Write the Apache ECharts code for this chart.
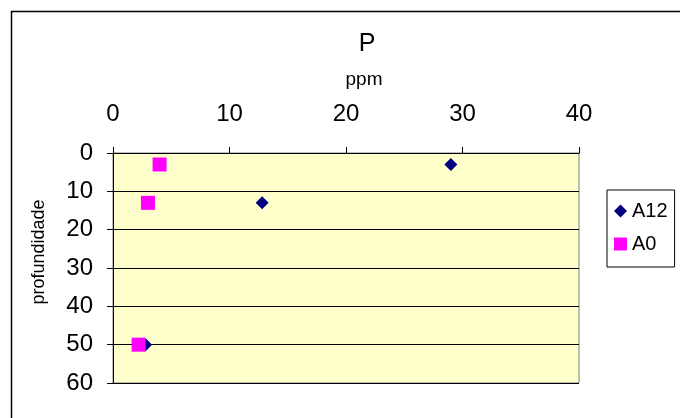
<!DOCTYPE html>
<html>
<head>
<meta charset="utf-8">
<script src="https://cdn.jsdelivr.net/npm/echarts@6/dist/echarts.min.js"></script>
<style>
html,body{margin:0;padding:0;background:#fff;}
#chart{width:680px;height:418px;}
</style>
</head>
<body>
<div id="chart"></div>
<script>
var seriesNames = ['A12', 'A0'];
var a12Values = [[29, 3], [12.8, 13], [2.8, 50]];
var a0Values = [[4, 3], [3, 13], [2.2, 50]];
var xTicks = [0, 10, 20, 30, 40];
var yTicks = [0, 10, 20, 30, 40, 50, 60];

var FONT = '"Liberation Sans", Arial, sans-serif';
var chart = echarts.init(document.getElementById('chart'), null, {renderer: 'canvas'});
chart.setOption({
  backgroundColor: '#ffffff',
  animation: false,
  title: {
    text: 'P',
    left: 362,
    top: 27,
    textAlign: 'center',
    textStyle: {fontFamily: FONT, fontSize: 25, fontWeight: 'normal', color: '#000'}
  },
  graphic: [{
    type: 'rect',
    shape: {x: 11.5, y: 11.5, width: 700, height: 420},
    style: {fill: 'none', stroke: '#000', lineWidth: 1.5},
    silent: true,
    z: -10
  }],
  legend: {
    orient: 'vertical',
    left: 607,
    top: 190,
    padding: [11, 7, 13, 7],
    itemGap: 13,
    itemWidth: 13,
    itemHeight: 13,
    borderColor: '#000',
    borderWidth: 1,
    backgroundColor: '#fff',
    textStyle: {fontFamily: FONT, fontSize: 20, color: '#000'},
    data: [
      {name: seriesNames[0], icon: 'diamond', itemStyle: {opacity: 1}},
      {name: seriesNames[1], icon: 'rect', itemStyle: {opacity: 1}}
    ]
  },
  grid: {
    left: 113,
    top: 153,
    width: 466,
    height: 230,
    show: true,
    backgroundColor: '#FFFFCC',
    borderColor: '#808080',
    borderWidth: 1
  },
  xAxis: {
    type: 'value',
    position: 'top',
    min: xTicks[0],
    max: xTicks[xTicks.length - 1],
    interval: 10,
    name: 'ppm',
    nameLocation: 'middle',
    nameGap: 64,
    nameTextStyle: {fontFamily: FONT, fontSize: 19, color: '#000', padding: [0, 0, 0, 36]},
    axisLine: {show: true, onZero: false, lineStyle: {color: '#000', width: 1}},
    axisTick: {show: true, inside: false, length: 6, lineStyle: {color: '#000'}},
    axisLabel: {fontFamily: FONT, fontSize: 24, color: '#000', margin: 27},
    splitLine: {show: false}
  },
  yAxis: {
    type: 'value',
    inverse: true,
    min: yTicks[0],
    max: yTicks[yTicks.length - 1],
    interval: 10,
    name: 'profundidade',
    nameLocation: 'middle',
    nameRotate: 90,
    nameGap: 65,
    nameTextStyle: {fontFamily: FONT, fontSize: 18, color: '#000', padding: [0, 0, 0, 32]},
    axisLine: {show: true, onZero: false, lineStyle: {color: '#000', width: 1}},
    axisTick: {show: true, inside: false, length: 6, lineStyle: {color: '#000'}},
    axisLabel: {fontFamily: FONT, fontSize: 24, color: '#000', margin: 20},
    splitLine: {show: true, lineStyle: {color: '#000', width: 1}}
  },
  series: [
    {
      name: seriesNames[0],
      type: 'scatter',
      symbol: 'diamond',
      symbolSize: [13, 13],
      itemStyle: {color: '#000080', opacity: 1},
      data: a12Values,
      z: 3
    },
    {
      name: seriesNames[1],
      type: 'scatter',
      symbol: 'rect',
      symbolSize: [14, 14],
      itemStyle: {color: '#FF00FF', opacity: 1},
      data: a0Values,
      z: 4
    }
  ]
});
</script>
</body>
</html>
